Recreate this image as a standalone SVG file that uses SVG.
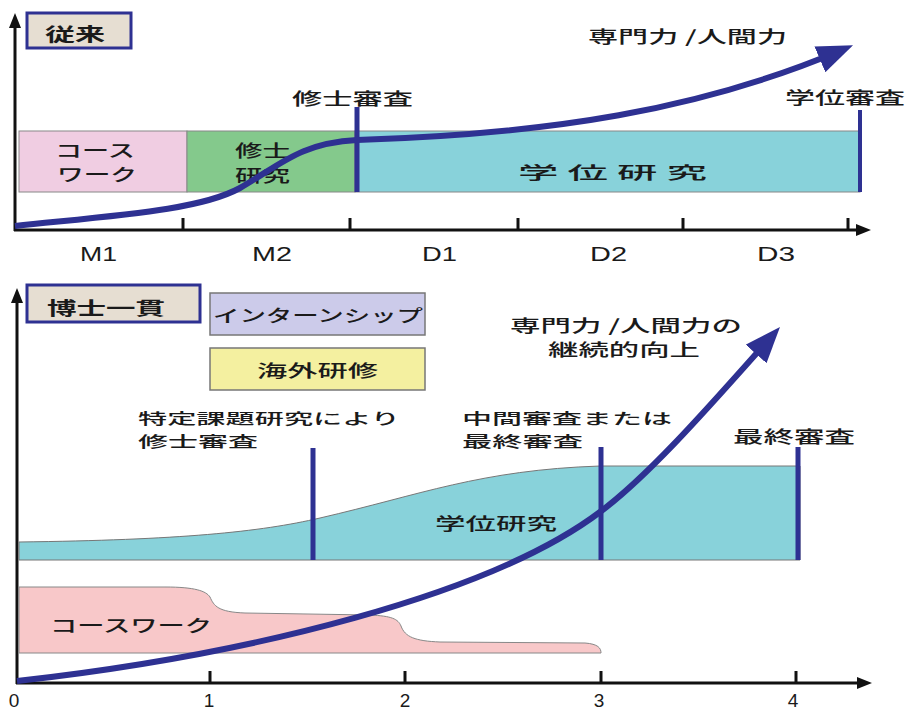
<svg xmlns="http://www.w3.org/2000/svg" width="907" height="710" viewBox="0 0 907 710">
<defs>
<style>
.jp{font-family:"Noto Sans CJK JP","Noto Sans",sans-serif;font-size:17px;fill:#1a1a1a;font-weight:500}
.jp2{font-family:"Noto Sans CJK JP","Noto Sans",sans-serif;font-size:15px;fill:#1a1a1a;font-weight:500}
.tt{font-family:"Noto Sans CJK JP","Noto Sans",sans-serif;font-size:18px;fill:#1a1a1a;font-weight:700}
.num{font-family:"Liberation Sans",Arial,sans-serif;font-size:20px;fill:#1a1a1a}
.axis{stroke:#111;stroke-width:3;fill:none}
.tick{stroke:#111;stroke-width:3}
.bar{stroke:#888;stroke-width:1}
.exam{stroke:#2e3192;stroke-width:5}
.title{fill:#e6ded2;stroke:#2e3192;stroke-width:3}
.grow{fill:none;stroke:#2e3192;stroke-width:6}
</style>
<marker id="ax" markerUnits="userSpaceOnUse" markerWidth="16" markerHeight="14" refX="4" refY="7" orient="auto">
<path d="M0,1 L15,7 L0,13 z" fill="#111"/>
</marker>
<marker id="big" markerUnits="userSpaceOnUse" markerWidth="36" markerHeight="28" refX="24" refY="14" orient="auto">
<path d="M0,0 L36,14 L0,28 z" fill="#2e3192"/>
</marker>
</defs>
<rect width="907" height="710" fill="#fff"/>

<!-- TOP CHART -->
<g id="top-axes">
<line class="axis" x1="15" y1="231" x2="15" y2="24" marker-end="url(#ax)"/>
<line class="axis" x1="14" y1="230" x2="860" y2="230" marker-end="url(#ax)"/>
<line class="tick" x1="183" y1="218" x2="183" y2="230"/>
<line class="tick" x1="350" y1="218" x2="350" y2="230"/>
<line class="tick" x1="518" y1="218" x2="518" y2="230"/>
<line class="tick" x1="683" y1="218" x2="683" y2="230"/>
<line class="tick" x1="848" y1="218" x2="848" y2="230"/>
<text class="num" x="80" y="261" textLength="37" lengthAdjust="spacingAndGlyphs">M1</text>
<text class="num" x="252" y="261" textLength="40" lengthAdjust="spacingAndGlyphs">M2</text>
<text class="num" x="422" y="261" textLength="35" lengthAdjust="spacingAndGlyphs">D1</text>
<text class="num" x="590" y="261" textLength="37" lengthAdjust="spacingAndGlyphs">D2</text>
<text class="num" x="757" y="261" textLength="38" lengthAdjust="spacingAndGlyphs">D3</text>
</g>
<g id="top-title">
<rect class="title" x="27" y="13" width="104" height="35"/>
<text class="tt" x="45" y="41" textLength="60" lengthAdjust="spacingAndGlyphs">従来</text>
</g>
<g id="top-coursework">
<rect class="bar" x="19" y="131" width="168" height="61" fill="#f0cde2"/>
<text class="jp" x="55" y="157" textLength="80" lengthAdjust="spacingAndGlyphs">コース</text>
<text class="jp" x="57" y="181" textLength="80" lengthAdjust="spacingAndGlyphs">ワーク</text>
</g>
<g id="top-master">
<rect class="bar" x="187" y="131" width="168" height="61" fill="#84c98c"/>
<text class="jp" x="235" y="157" textLength="55" lengthAdjust="spacingAndGlyphs">修士</text>
<text class="jp" x="235" y="182" textLength="55" lengthAdjust="spacingAndGlyphs">研究</text>
</g>
<g id="top-degree">
<rect class="bar" x="355" y="131" width="505" height="61" fill="#88d2da"/>
<text class="jp" x="518" y="179" textLength="189" lengthAdjust="spacingAndGlyphs">学 位 研 究</text>
</g>
<g id="top-exam-master">
<line class="exam" x1="357" y1="107" x2="357" y2="192"/>
<text class="jp" x="292" y="105" textLength="121" lengthAdjust="spacingAndGlyphs">修士審査</text>
</g>
<g id="top-exam-degree">
<line class="exam" x1="860" y1="110" x2="860" y2="192" style="stroke-width:4"/>
<text class="jp" x="785" y="104" textLength="120" lengthAdjust="spacingAndGlyphs">学位審査</text>
</g>
<g id="top-label">
<text class="jp" x="588" y="43" textLength="199" lengthAdjust="spacingAndGlyphs">専門力 /人間力</text>
</g>

<!-- BOTTOM CHART -->
<g id="bottom-axes">
<line class="axis" x1="17" y1="684" x2="17" y2="299" marker-end="url(#ax)"/>
<line class="axis" x1="16" y1="683" x2="861" y2="683" marker-end="url(#ax)"/>
<line class="tick" x1="210" y1="671" x2="210" y2="683"/>
<line class="tick" x1="405" y1="671" x2="405" y2="683"/>
<line class="tick" x1="601" y1="671" x2="601" y2="683"/>
<line class="tick" x1="796" y1="671" x2="796" y2="683"/>
<text class="num" x="14" y="707" text-anchor="middle" style="font-size:19px">0</text>
<text class="num" x="209" y="707" text-anchor="middle" style="font-size:19px">1</text>
<text class="num" x="405" y="707" text-anchor="middle" style="font-size:19px">2</text>
<text class="num" x="599" y="707" text-anchor="middle" style="font-size:19px">3</text>
<text class="num" x="793" y="707" text-anchor="middle" style="font-size:19px">4</text>
</g>
<g id="bottom-title">
<rect class="title" x="27" y="285" width="173" height="37"/>
<text class="tt" x="47" y="315" textLength="118" lengthAdjust="spacingAndGlyphs">博士一貫</text>
</g>
<g id="internship">
<rect x="210" y="293" width="215" height="42" fill="#cccbea" stroke="#777" stroke-width="1.5"/>
<text class="jp" x="213" y="322" textLength="210" lengthAdjust="spacingAndGlyphs">インターンシップ</text>
</g>
<g id="overseas">
<rect x="210" y="348" width="215" height="42" fill="#f4f0a0" stroke="#777" stroke-width="1.5"/>
<text class="jp" x="257" y="377" textLength="121" lengthAdjust="spacingAndGlyphs">海外研修</text>
</g>
<g id="bottom-degree">
<path d="M19,560 L19,542 C180,540 260,532 320,518 C420,495 480,470 600,466 L800,466 L800,560 Z" fill="#88d2da" stroke="#777" stroke-width="1"/>
<text class="jp" x="435" y="530" textLength="122" lengthAdjust="spacingAndGlyphs">学位研究</text>
</g>
<g id="bottom-coursework">
<path d="M19,653 L19,587 L165,587 C195,587 206,591 210,597 C214,606 218,612 245,613 L370,615 C392,616 398,619 401,626 C405,637 415,641 440,642 L585,643 C598,644 601,648 601,653 Z" fill="#f8c8c9" stroke="#888" stroke-width="1"/>
<text class="jp" x="50" y="632" textLength="162" lengthAdjust="spacingAndGlyphs">コースワーク</text>
</g>
<g id="exam-1">
<line class="exam" x1="313" y1="448" x2="313" y2="560"/>
<text class="jp2" x="138" y="424" textLength="262" lengthAdjust="spacingAndGlyphs">特定課題研究により</text>
<text class="jp2" x="138" y="447" textLength="120" lengthAdjust="spacingAndGlyphs">修士審査</text>
</g>
<g id="exam-2">
<line class="exam" x1="601" y1="447" x2="601" y2="560"/>
<text class="jp2" x="462" y="424" textLength="210" lengthAdjust="spacingAndGlyphs">中間審査または</text>
<text class="jp2" x="462" y="447" textLength="121" lengthAdjust="spacingAndGlyphs">最終審査</text>
</g>
<g id="exam-final">
<line class="exam" x1="798" y1="447" x2="798" y2="560"/>
<text class="jp" x="733" y="443" textLength="122" lengthAdjust="spacingAndGlyphs">最終審査</text>
</g>
<g id="bottom-label">
<text class="jp" x="510" y="332" textLength="232" lengthAdjust="spacingAndGlyphs">専門力 /人間力の</text>
<text class="jp" x="548" y="356" textLength="152" lengthAdjust="spacingAndGlyphs">継続的向上</text>
</g>

<g id="connectors">
<path class="grow" d="M15,226 C120,215 200,210 240,188 C280,165 300,143 357,140 C550,134 700,110 842,50" marker-end="url(#big)"/>
<path class="grow" d="M17,681 C250,655 490,595 600,512 C650,475 715,400 772,336" marker-end="url(#big)"/>
</g>
</svg>
